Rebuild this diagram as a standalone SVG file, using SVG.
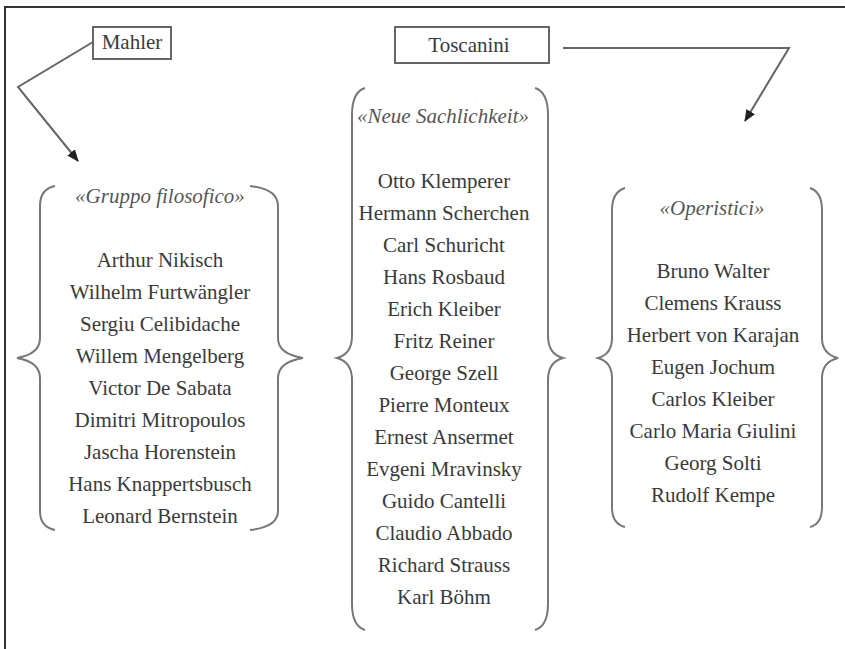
<svg xmlns="http://www.w3.org/2000/svg" width="845" height="649" viewBox="0 0 845 649">
<defs>
<style>
.t{font-family:"Liberation Serif","Times New Roman",serif;font-size:21px;fill:#3a3a3a;text-anchor:middle}
.h{font-family:"Liberation Serif","Times New Roman",serif;font-size:21px;font-style:italic;fill:#555;text-anchor:middle}
.box{fill:#fff;stroke:#666;stroke-width:2}
.br{fill:none;stroke:#777;stroke-width:2}
.ln{fill:none;stroke:#666;stroke-width:2}
</style>
<marker id="arr" viewBox="0 0 12 10" refX="11" refY="5" markerWidth="12" markerHeight="10" markerUnits="userSpaceOnUse" orient="auto">
<path d="M0,0 L12,5 L0,10 Z" fill="#222"/>
</marker>
</defs>
<rect width="845" height="649" fill="#fff"/>
<path d="M5,649 L5,7 L845,7" fill="none" stroke="#333" stroke-width="2"/>
<g id="connectors">
<polyline class="ln" points="93,42 18,87 78,161" marker-end="url(#arr)"/>
<polyline class="ln" points="563,48 789,48 745,121" marker-end="url(#arr)"/>
</g>
<g id="mahler">
<rect class="box" x="93" y="27" width="78" height="32"/>
<text class="t" x="132" y="49">Mahler</text>
</g>
<g id="toscanini">
<rect class="box" x="395" y="27" width="154" height="36"/>
<text class="t" x="469" y="52">Toscanini</text>
</g>
<g id="gruppo-filosofico">
<path class="br" d="M55,186 Q40,189 40,206 L40,338 Q40,354 17,358 Q40,362 40,378 L40,511 Q40,527 55,530"/>
<path class="br" d="M250,186 Q278,189 278,206 L278,338 Q278,354 303,358 Q278,362 278,378 L278,511 Q278,527 250,530"/>
<text class="h" x="160" y="203">«Gruppo filosofico»</text>
<text class="t" x="160" y="267">Arthur Nikisch</text>
<text class="t" x="160" y="299">Wilhelm Furtwängler</text>
<text class="t" x="160" y="331">Sergiu Celibidache</text>
<text class="t" x="160" y="363">Willem Mengelberg</text>
<text class="t" x="160" y="395">Victor De Sabata</text>
<text class="t" x="160" y="427">Dimitri Mitropoulos</text>
<text class="t" x="160" y="459">Jascha Horenstein</text>
<text class="t" x="160" y="491">Hans Knappertsbusch</text>
<text class="t" x="160" y="523">Leonard Bernstein</text>
</g>
<g id="neue-sachlichkeit">
<path class="br" d="M365,88 Q352,92 352,115 L352,336 Q352,354 337,358 Q352,362 352,380 L352,604 Q352,626 365,630"/>
<path class="br" d="M535,88 Q548,92 548,115 L548,336 Q548,354 563,358 Q548,362 548,380 L548,604 Q548,626 535,630"/>
<text class="h" x="443" y="123">«Neue Sachlichkeit»</text>
<text class="t" x="444" y="188">Otto Klemperer</text>
<text class="t" x="444" y="220">Hermann Scherchen</text>
<text class="t" x="444" y="252">Carl Schuricht</text>
<text class="t" x="444" y="284">Hans Rosbaud</text>
<text class="t" x="444" y="316">Erich Kleiber</text>
<text class="t" x="444" y="348">Fritz Reiner</text>
<text class="t" x="444" y="380">George Szell</text>
<text class="t" x="444" y="412">Pierre Monteux</text>
<text class="t" x="444" y="444">Ernest Ansermet</text>
<text class="t" x="444" y="476">Evgeni Mravinsky</text>
<text class="t" x="444" y="508">Guido Cantelli</text>
<text class="t" x="444" y="540">Claudio Abbado</text>
<text class="t" x="444" y="572">Richard Strauss</text>
<text class="t" x="444" y="604">Karl Böhm</text>
</g>
<g id="operistici">
<path class="br" d="M625,188 Q612,192 612,210 L612,338 Q612,354 598,358 Q612,362 612,378 L612,507 Q612,524 625,527"/>
<path class="br" d="M810,188 Q822,192 822,210 L822,338 Q822,354 838,358 Q822,362 822,378 L822,507 Q822,524 810,527"/>
<text class="h" x="712" y="215">«Operistici»</text>
<text class="t" x="713" y="278">Bruno Walter</text>
<text class="t" x="713" y="310">Clemens Krauss</text>
<text class="t" x="713" y="342">Herbert von Karajan</text>
<text class="t" x="713" y="374">Eugen Jochum</text>
<text class="t" x="713" y="406">Carlos Kleiber</text>
<text class="t" x="713" y="438">Carlo Maria Giulini</text>
<text class="t" x="713" y="470">Georg Solti</text>
<text class="t" x="713" y="502">Rudolf Kempe</text>
</g>
</svg>
